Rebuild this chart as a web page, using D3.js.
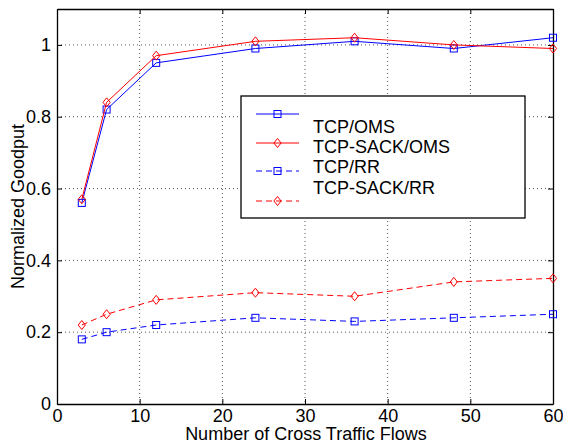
<!DOCTYPE html>
<html>
<head>
<meta charset="utf-8">
<script src="https://cdn.jsdelivr.net/npm/d3@7/dist/d3.min.js"></script>
<style>
  html, body { margin: 0; padding: 0; background: #fff; }
  svg text { font-family: "Liberation Sans", Arial, Helvetica, sans-serif; fill: #000; }
</style>
</head>
<body>
<svg id="chart" width="563" height="446"></svg>
<script>
// Number of cross traffic flows
const flows = [3, 6, 12, 24, 36, 48, 60];
// Normalized goodput per scheme
const tcpOms     = [0.56, 0.82, 0.95, 0.99, 1.01, 0.99, 1.02];
const tcpSackOms = [0.57, 0.84, 0.97, 1.01, 1.02, 1.00, 0.99];
const tcpRr      = [0.18, 0.20, 0.22, 0.24, 0.23, 0.24, 0.25];
const tcpSackRr  = [0.22, 0.25, 0.29, 0.31, 0.30, 0.34, 0.35];
const seriesNames = ["TCP/OMS", "TCP-SACK/OMS", "TCP/RR", "TCP-SACK/RR"];
const xTicks = [0, 10, 20, 30, 40, 50, 60];
const yTicks = [0, 0.2, 0.4, 0.6, 0.8, 1];

const series = [
  { name: seriesNames[0], values: tcpOms,     color: "#0000ff", marker: "square",  dash: null },
  { name: seriesNames[1], values: tcpSackOms, color: "#ff0000", marker: "diamond", dash: null },
  { name: seriesNames[2], values: tcpRr,      color: "#0000ff", marker: "square",  dash: "6,4" },
  { name: seriesNames[3], values: tcpSackRr,  color: "#ff0000", marker: "diamond", dash: "6,4" }
];

const svg = d3.select("#chart");
const L = 57, R = 553, T = 9, B = 404;
const FS = 18;

const x = d3.scaleLinear().domain([0, 60]).range([L, R]);
const y = d3.scaleLinear().domain([0, 1.1]).range([B, T]);

// Dotted grid
const grid = svg.append("g");
grid.selectAll("line.gx").data(xTicks.filter(d => d > 0 && d < 60)).enter().append("line")
  .attr("x1", d => x(d)).attr("x2", d => x(d)).attr("y1", T).attr("y2", B)
  .attr("stroke", "#555").attr("stroke-width", 1).attr("stroke-dasharray", "1,3");
grid.selectAll("line.gy").data(yTicks.filter(d => d > 0)).enter().append("line")
  .attr("x1", L).attr("x2", R).attr("y1", d => y(d)).attr("y2", d => y(d))
  .attr("stroke", "#555").attr("stroke-width", 1).attr("stroke-dasharray", "1,3");

// Axes with inward ticks on all four sides
const tickLen = 5;
const fmtY = d => (d === 0 || d === 1) ? String(d) : d.toFixed(1);
const axBottom = svg.append("g").attr("transform", `translate(0,${B})`)
  .call(d3.axisBottom(x).tickValues(xTicks).tickSizeInner(-tickLen).tickSizeOuter(0).tickPadding(5));
const axTop = svg.append("g").attr("transform", `translate(0,${T})`)
  .call(d3.axisTop(x).tickValues(xTicks).tickSizeInner(-tickLen).tickSizeOuter(0).tickFormat(""));
const axLeft = svg.append("g").attr("transform", `translate(${L},0)`)
  .call(d3.axisLeft(y).tickValues(yTicks).tickFormat(fmtY).tickSizeInner(-tickLen).tickSizeOuter(0).tickPadding(6));
const axRight = svg.append("g").attr("transform", `translate(${R},0)`)
  .call(d3.axisRight(y).tickValues(yTicks).tickSizeInner(-tickLen).tickSizeOuter(0).tickFormat(""));
[axBottom, axTop, axLeft, axRight].forEach(a => {
  a.select(".domain").attr("stroke", "#000").attr("stroke-width", 1.3);
  a.selectAll(".tick line").attr("stroke", "#000").attr("stroke-width", 1);
  a.selectAll("text").attr("font-size", FS).attr("font-family", "Liberation Sans, Arial, sans-serif").attr("fill", "#000");
});

// Axis titles
svg.append("text").attr("x", (L + R) / 2 + 1).attr("y", 440).attr("text-anchor", "middle")
  .attr("font-size", FS).text("Number of Cross Traffic Flows");
svg.append("text").attr("transform", `translate(24,${(T + B) / 2}) rotate(-90)`)
  .attr("text-anchor", "middle").attr("font-size", FS).text("Normalized Goodput");

// Marker shapes
function drawMarker(g, type, cx, cy, color) {
  if (type === "square") {
    g.append("rect").attr("x", cx - 3.5).attr("y", cy - 3.5).attr("width", 7).attr("height", 7)
      .attr("fill", "none").attr("stroke", color).attr("stroke-width", 1);
  } else {
    const s = 4.5;
    g.append("path").attr("d", `M${cx},${cy - s}L${cx + s * 0.8},${cy}L${cx},${cy + s}L${cx - s * 0.8},${cy}Z`)
      .attr("fill", "none").attr("stroke", color).attr("stroke-width", 1);
  }
}

// Series lines and markers
const line = d3.line().x((d, i) => x(flows[i])).y(d => y(d));
series.forEach(s => {
  const g = svg.append("g");
  g.append("path").datum(s.values).attr("d", line)
    .attr("fill", "none").attr("stroke", s.color).attr("stroke-width", 1)
    .attr("stroke-dasharray", s.dash);
  s.values.forEach((v, i) => drawMarker(g, s.marker, x(flows[i]), y(v), s.color));
});

// Legend
const lg = svg.append("g");
lg.append("rect").attr("x", 241).attr("y", 96).attr("width", 284).attr("height", 122)
  .attr("fill", "#fff").attr("stroke", "#000").attr("stroke-width", 1.3);
const sampleY = [114, 143, 171, 201];
const textY = [133, 153, 173, 194];
series.forEach((s, i) => {
  lg.append("line").attr("x1", 256).attr("x2", 299).attr("y1", sampleY[i]).attr("y2", sampleY[i])
    .attr("stroke", s.color).attr("stroke-width", 1).attr("stroke-dasharray", s.dash);
  drawMarker(lg, s.marker, 277.5, sampleY[i], s.color);
  lg.append("text").attr("x", 313).attr("y", textY[i]).attr("font-size", FS).text(s.name);
});
</script>
</body>
</html>
